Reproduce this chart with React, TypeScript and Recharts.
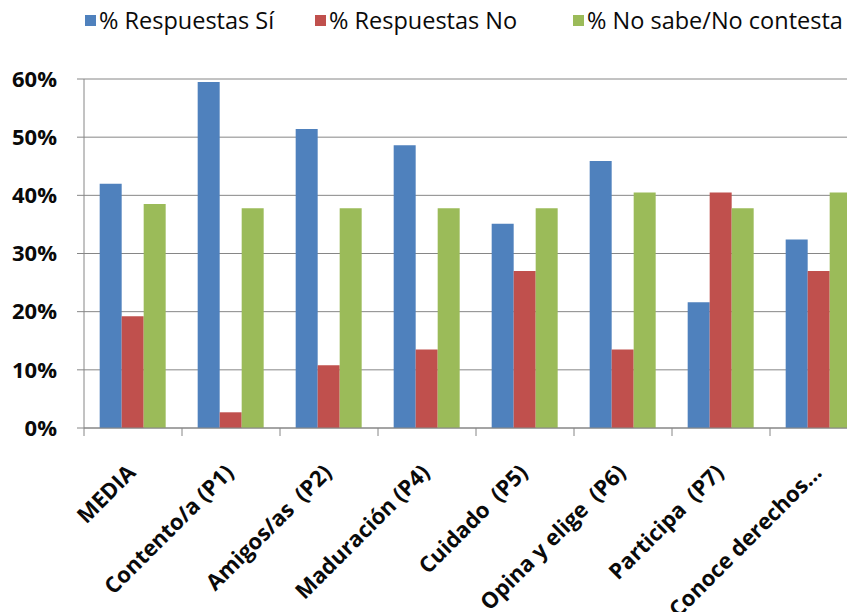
import React from "react";
import { Bar, BarChart, CartesianGrid, XAxis, YAxis } from "recharts";

const categories = [
  "MEDIA",
  "Contento/a (P1)",
  "Amigos/as  (P2)",
  "Maduración (P4)",
  "Cuidado  (P5)",
  "Opina y elige  (P6)",
  "Participa  (P7)",
  "Conoce derechos…",
];
const si = [42.0, 59.5, 51.4, 48.6, 35.1, 45.9, 21.6, 32.4];
const no = [19.2, 2.7, 10.8, 13.5, 27.0, 13.5, 40.5, 27.0];
const nsnc = [38.5, 37.8, 37.8, 37.8, 37.8, 40.5, 37.8, 40.5];
const yTicks = [0, 10, 20, 30, 40, 50, 60];

const series = [
  { key: "si", name: "% Respuestas Sí", color: "#4F81BD", left: 85 },
  { key: "no", name: "% Respuestas No", color: "#C0504D", left: 315 },
  { key: "nsnc", name: "% No sabe/No contesta", color: "#9BBB59", left: 573 },
];

const data = categories.map((name, i) => ({
  name,
  si: si[i],
  no: no[i],
  nsnc: nsnc[i],
}));

const FONT = "'Open Sans', sans-serif";
const AXIS = "#868686";
const BAND = 784 / categories.length;

function XTick(props: any) {
  const { x, y, payload } = props;
  const tx = x + 4;
  const ty = y + 38;
  return (
    <g>
      <line x1={x - BAND / 2} x2={x - BAND / 2} y1={y - 8} y2={y} stroke={AXIS} />
      <text
        x={tx}
        y={ty}
        transform={`rotate(-45 ${tx} ${ty})`}
        textAnchor="end"
        fontFamily={FONT}
        fontWeight={700}
        fontSize={22}
        fill="#0a0a0a"
        style={{ whiteSpace: "pre" }}
      >
        {payload.value}
      </text>
    </g>
  );
}

export default function App() {
  return (
    <div
      style={{
        position: "fixed",
        left: 0,
        top: 0,
        width: 847,
        height: 612,
        overflow: "hidden",
        background: "#fff",
      }}
    >
      {series.map((s) => (
        <div
          key={s.key}
          style={{
            position: "absolute",
            left: s.left,
            top: 4,
            display: "flex",
            alignItems: "center",
            fontFamily: FONT,
            fontSize: 23.5,
            color: "#0a0a0a",
            whiteSpace: "nowrap",
          }}
        >
          <span
            style={{
              display: "inline-block",
              width: 11,
              height: 11,
              background: s.color,
              marginRight: 3,
            }}
          />
          {s.name}
        </div>
      ))}
      <BarChart
        width={880}
        height={612}
        data={data}
        margin={{ top: 79, right: 12, left: 0, bottom: 0 }}
        barCategoryGap="16%"
        barGap={0}
      >
        <CartesianGrid vertical={false} stroke={AXIS} />
        <XAxis
          dataKey="name"
          height={184}
          interval={0}
          tickLine={false}
          tickSize={8}
          tickMargin={0}
          axisLine={{ stroke: AXIS }}
          tick={<XTick />}
        />
        <YAxis
          width={84}
          domain={[0, 60]}
          ticks={yTicks}
          tickFormatter={(v: number) => `${v}%`}
          tickSize={7}
          tickMargin={20}
          axisLine={{ stroke: AXIS }}
          tickLine={{ stroke: AXIS }}
          tick={{ fontFamily: FONT, fontWeight: 700, fontSize: 22, fill: "#0a0a0a" }}
        />
        {series.map((s) => (
          <Bar
            key={s.key}
            dataKey={s.key}
            name={s.name}
            fill={s.color}
            isAnimationActive={false}
          />
        ))}
      </BarChart>
    </div>
  );
}
